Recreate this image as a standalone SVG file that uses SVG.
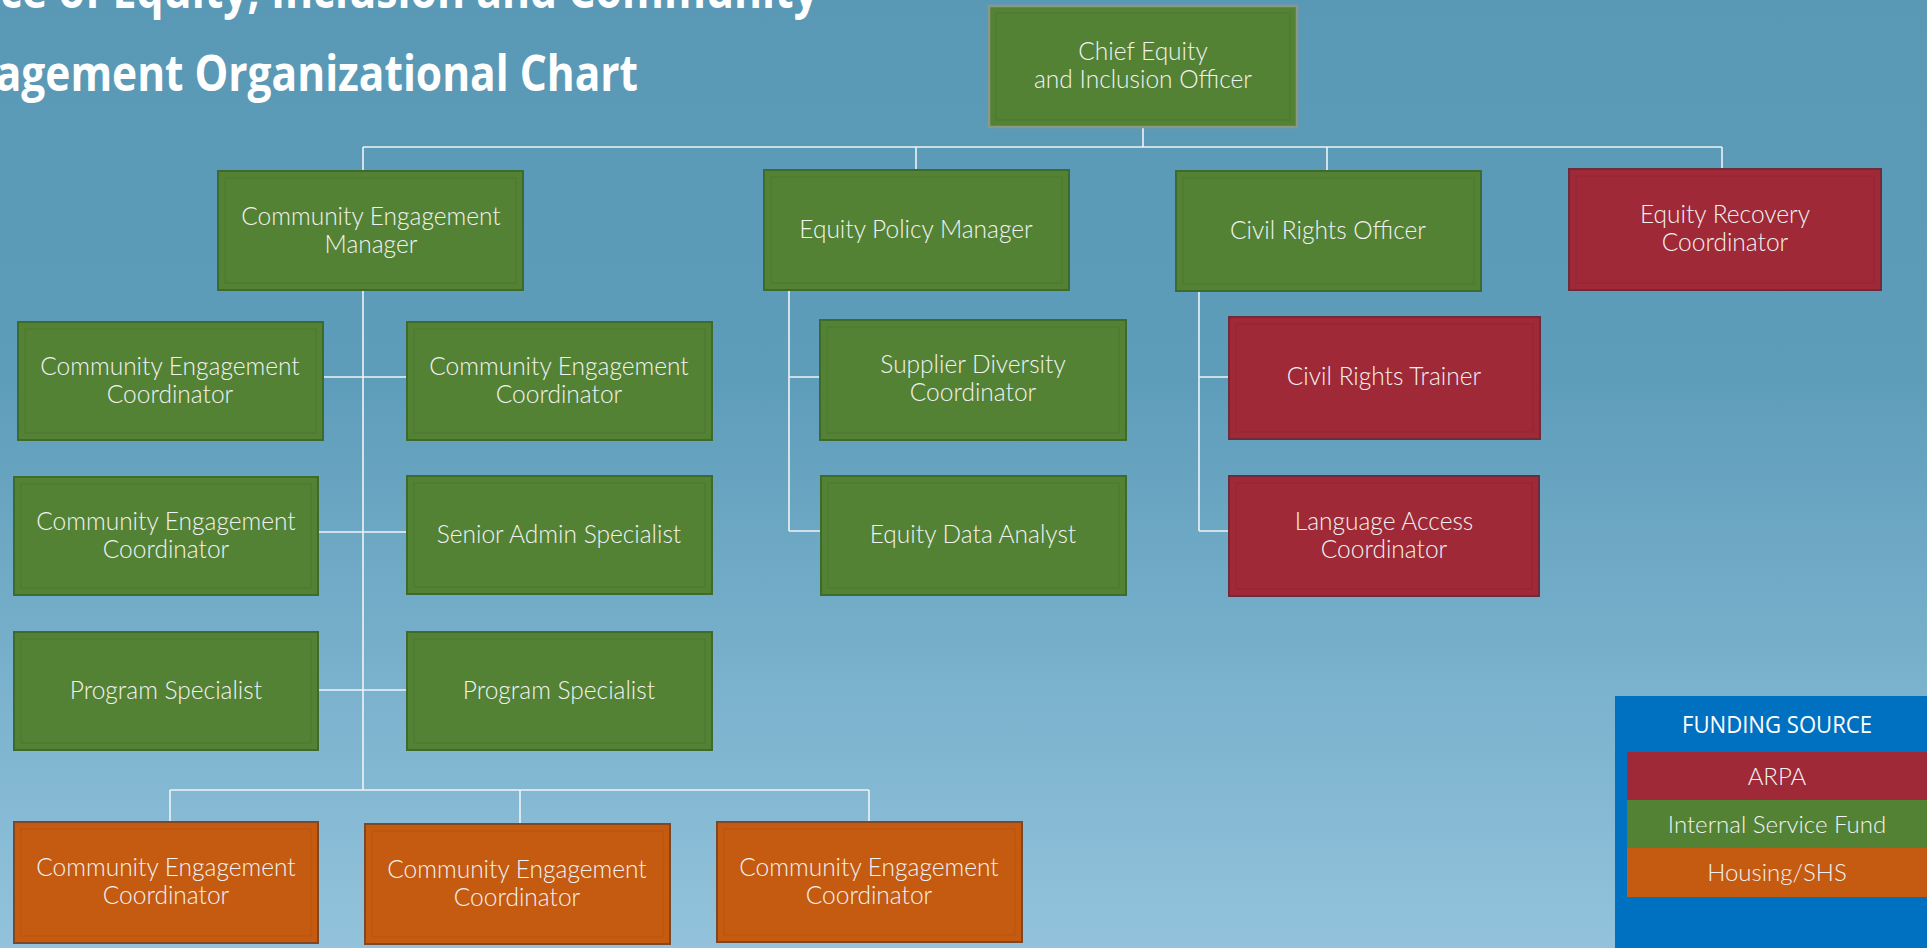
<svg xmlns="http://www.w3.org/2000/svg" width="1927" height="948" viewBox="0 0 1927 948">
  <defs>
    <linearGradient id="bg" x1="0" y1="0" x2="0" y2="1">
      <stop offset="0" stop-color="#5a99b6"/>
      <stop offset="0.4" stop-color="#5e9dba"/>
      <stop offset="1" stop-color="#93c3dc"/>
    </linearGradient>
    <style>
      .title { font-family: "Open Sans", "Liberation Sans", sans-serif; font-weight: 700; font-size: 50px; fill: #ffffff; }
      .lbl { font-family: Lato, "Open Sans", "Liberation Sans", sans-serif; font-weight: 300; font-size: 24.5px; fill: #f2f2f2; text-anchor: middle; }
      .green .outer { fill: #548235; stroke: #3d6b2c; stroke-width: 2; }
      .green .inner { fill: none; stroke: #4c7b30; stroke-width: 1.2; }
      .red .outer { fill: #9f2936; stroke: #6c2c3c; stroke-width: 2; }
      .red .inner { fill: none; stroke: #962634; stroke-width: 1.2; }
      .orange .outer { fill: #c55a11; stroke: #7e4826; stroke-width: 2; }
      .orange .inner { fill: none; stroke: #bb5510; stroke-width: 1.2; }
      .chief .outer { stroke: #8a9888; stroke-width: 2.5; }
      .conn { fill: none; stroke: #eef3f6; stroke-width: 1.6; }
      .leg { font-family: Lato, "Open Sans", "Liberation Sans", sans-serif; font-weight: 300; font-size: 24px; fill: #f2f2f2; text-anchor: middle; }
      .leghead { font-family: "Open Sans", "Liberation Sans", sans-serif; font-weight: 400; font-size: 24px; fill: #ffffff; text-anchor: middle; }
    </style>
  </defs>

  <rect x="0" y="0" width="1927" height="948" fill="url(#bg)"/>

  <g id="title">
    <text class="title" x="-80" y="8" textLength="898" lengthAdjust="spacingAndGlyphs">Office of Equity, Inclusion and Community</text>
    <text class="title" x="-80" y="91" textLength="718" lengthAdjust="spacingAndGlyphs">Engagement Organizational Chart</text>
  </g>

  <g id="connectors">
    <path class="conn" d="M1143 127 V147 M363 147 H1722 M363 147 V171 M916 147 V170 M1327 147 V171 M1722 147 V169"/>
    <path class="conn" d="M363 290 V790 M323 377 H407 M318 532 H407 M318 690 H407"/>
    <path class="conn" d="M170 790 H869 M170 790 V822 M520 790 V824 M869 790 V822"/>
    <path class="conn" d="M789 290 V531 M789 377 H820 M789 531 H821"/>
    <path class="conn" d="M1199 291 V531 M1199 377 H1229 M1199 531 H1229"/>
  </g>

  <g id="chief" class="green chief">
    <rect class="outer" x="989" y="6" width="308" height="121"/>
    <rect class="inner" x="996" y="13" width="294" height="107"/>
    <text class="lbl" x="1143" y="60">Chief Equity</text>
    <text class="lbl" x="1143" y="88">and Inclusion Officer</text>
  </g>

  <g id="community-engagement-manager" class="green">
    <rect class="outer" x="218" y="171" width="305" height="119"/>
    <rect class="inner" x="225" y="178" width="291" height="105"/>
    <text class="lbl" x="371" y="225">Community Engagement</text>
    <text class="lbl" x="371" y="253">Manager</text>
  </g>

  <g id="equity-policy-manager" class="green">
    <rect class="outer" x="764" y="170" width="305" height="120"/>
    <rect class="inner" x="771" y="177" width="291" height="106"/>
    <text class="lbl" x="916" y="238">Equity Policy Manager</text>
  </g>

  <g id="civil-rights-officer" class="green">
    <rect class="outer" x="1176" y="171" width="305" height="120"/>
    <rect class="inner" x="1183" y="178" width="291" height="106"/>
    <text class="lbl" x="1328" y="239">Civil Rights Officer</text>
  </g>

  <g id="equity-recovery-coordinator" class="red">
    <rect class="outer" x="1569" y="169" width="312" height="121"/>
    <rect class="inner" x="1576" y="176" width="298" height="107"/>
    <text class="lbl" x="1725" y="223">Equity Recovery</text>
    <text class="lbl" x="1725" y="251">Coordinator</text>
  </g>

  <g id="cec-1" class="green">
    <rect class="outer" x="18" y="322" width="305" height="118"/>
    <rect class="inner" x="25" y="329" width="291" height="104"/>
    <text class="lbl" x="170" y="375">Community Engagement</text>
    <text class="lbl" x="170" y="403">Coordinator</text>
  </g>

  <g id="cec-2" class="green">
    <rect class="outer" x="407" y="322" width="305" height="118"/>
    <rect class="inner" x="414" y="329" width="291" height="104"/>
    <text class="lbl" x="559" y="375">Community Engagement</text>
    <text class="lbl" x="559" y="403">Coordinator</text>
  </g>

  <g id="cec-3" class="green">
    <rect class="outer" x="14" y="477" width="304" height="118"/>
    <rect class="inner" x="21" y="484" width="290" height="104"/>
    <text class="lbl" x="166" y="530">Community Engagement</text>
    <text class="lbl" x="166" y="558">Coordinator</text>
  </g>

  <g id="senior-admin-specialist" class="green">
    <rect class="outer" x="407" y="476" width="305" height="118"/>
    <rect class="inner" x="414" y="483" width="291" height="104"/>
    <text class="lbl" x="559" y="543">Senior Admin Specialist</text>
  </g>

  <g id="program-specialist-1" class="green">
    <rect class="outer" x="14" y="632" width="304" height="118"/>
    <rect class="inner" x="21" y="639" width="290" height="104"/>
    <text class="lbl" x="166" y="699">Program Specialist</text>
  </g>

  <g id="program-specialist-2" class="green">
    <rect class="outer" x="407" y="632" width="305" height="118"/>
    <rect class="inner" x="414" y="639" width="291" height="104"/>
    <text class="lbl" x="559" y="699">Program Specialist</text>
  </g>

  <g id="supplier-diversity-coordinator" class="green">
    <rect class="outer" x="820" y="320" width="306" height="120"/>
    <rect class="inner" x="827" y="327" width="292" height="106"/>
    <text class="lbl" x="973" y="373">Supplier Diversity</text>
    <text class="lbl" x="973" y="401">Coordinator</text>
  </g>

  <g id="equity-data-analyst" class="green">
    <rect class="outer" x="821" y="476" width="305" height="119"/>
    <rect class="inner" x="828" y="483" width="291" height="105"/>
    <text class="lbl" x="973" y="543">Equity Data Analyst</text>
  </g>

  <g id="civil-rights-trainer" class="red">
    <rect class="outer" x="1229" y="317" width="311" height="122"/>
    <rect class="inner" x="1236" y="324" width="297" height="108"/>
    <text class="lbl" x="1384" y="385">Civil Rights Trainer</text>
  </g>

  <g id="language-access-coordinator" class="red">
    <rect class="outer" x="1229" y="476" width="310" height="120"/>
    <rect class="inner" x="1236" y="483" width="296" height="106"/>
    <text class="lbl" x="1384" y="530">Language Access</text>
    <text class="lbl" x="1384" y="558">Coordinator</text>
  </g>

  <g id="cec-housing-1" class="orange">
    <rect class="outer" x="14" y="822" width="304" height="121"/>
    <rect class="inner" x="21" y="829" width="290" height="107"/>
    <text class="lbl" x="166" y="876">Community Engagement</text>
    <text class="lbl" x="166" y="904">Coordinator</text>
  </g>

  <g id="cec-housing-2" class="orange">
    <rect class="outer" x="365" y="824" width="305" height="120"/>
    <rect class="inner" x="372" y="831" width="291" height="106"/>
    <text class="lbl" x="517" y="878">Community Engagement</text>
    <text class="lbl" x="517" y="906">Coordinator</text>
  </g>

  <g id="cec-housing-3" class="orange">
    <rect class="outer" x="717" y="822" width="305" height="120"/>
    <rect class="inner" x="724" y="829" width="291" height="106"/>
    <text class="lbl" x="869" y="876">Community Engagement</text>
    <text class="lbl" x="869" y="904">Coordinator</text>
  </g>

  <g id="legend">
    <rect x="1615" y="696" width="312" height="252" fill="#0070c0"/>
    <text class="leghead" x="1777" y="733" textLength="190" lengthAdjust="spacingAndGlyphs">FUNDING SOURCE</text>
    <rect x="1627" y="752" width="300" height="48" fill="#9f2936"/>
    <text class="leg" x="1777" y="785">ARPA</text>
    <rect x="1627" y="800" width="300" height="48" fill="#548235"/>
    <text class="leg" x="1777" y="833">Internal Service Fund</text>
    <rect x="1627" y="848" width="300" height="49" fill="#c55a11"/>
    <text class="leg" x="1777" y="881">Housing/SHS</text>
  </g>
</svg>
